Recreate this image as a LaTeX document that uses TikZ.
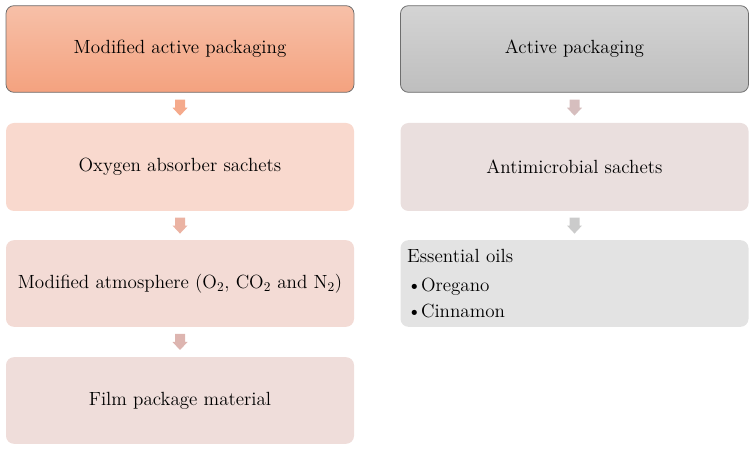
\documentclass[tikz,border=0pt]{standalone}
\usetikzlibrary{calc}
\definecolor{borderc}{HTML}{6E6E6E}
\definecolor{orTop}{HTML}{F7C0A8}
\definecolor{orBot}{HTML}{F4A27F}
\definecolor{grTop}{HTML}{D4D4D4}
\definecolor{grBot}{HTML}{BEBEBE}
\definecolor{lA}{HTML}{F9D9CE}
\definecolor{lB}{HTML}{F3DBD5}
\definecolor{lC}{HTML}{EFDDDA}
\definecolor{rA}{HTML}{EADFDE}
\definecolor{rB}{HTML}{E3E3E3}
\definecolor{arA}{HTML}{F5AA8C}
\definecolor{arB}{HTML}{EBB3A3}
\definecolor{arC}{HTML}{DDB5B0}
\definecolor{arD}{HTML}{D6BEBE}
\definecolor{arE}{HTML}{CBCBCB}
\tikzset{
  x=0.75pt, y=-0.75pt,
  box/.style={rounded corners=6pt, minimum width=261pt, minimum height=65pt,
    inner sep=0pt, align=center, font=\fontsize{14.3}{17}\selectfont},
  topbox/.style={box, draw=borderc, line width=0.6pt},
}
\newcommand{\blockarrow}[3]{%
  \path let \p1=($(#1.south)!0.5!(#2.north)$) in
    coordinate (c) at (\p1);
  \fill[#3] ($(c)+(-5,-8)$) -- ($(c)+(5,-8)$) -- ($(c)+(5,0)$) -- ($(c)+(7.5,0)$)
    -- ($(c)+(0,8)$) -- ($(c)+(-7.5,0)$) -- ($(c)+(-5,0)$) -- cycle;
}
\begin{document}
\begin{tikzpicture}
\useasboundingbox (0,0) rectangle (754,452);
\node[topbox, top color=orTop, bottom color=orBot] (l1) at (180,49) {Modified active packaging};
\node[box, fill=lA, minimum height=66pt] (l2) at (180,167) {Oxygen absorber sachets};
\node[box, fill=lB] (l3) at (180,283.5) {Modified atmosphere (O\textsubscript{2}, CO\textsubscript{2} and N\textsubscript{2})};
\node[box, fill=lC] (l4) at (180,400.5) {Film package material};
\node[topbox, top color=grTop, bottom color=grBot] (r1) at (574.5,49) {Active packaging};
\node[box, fill=rA, minimum height=66pt] (r2) at (574.5,167) {Antimicrobial sachets};
\node[box, fill=rB, align=left, text width=251pt, inner xsep=5pt] (r3) at (574.5,283.5)
  {Essential oils\\[5pt]\textbullet\kern-0.5pt Oregano\\[2.5pt]\textbullet\kern-0.5pt Cinnamon};
\blockarrow{l1}{l2}{arA}
\blockarrow{l2}{l3}{arB}
\blockarrow{l3}{l4}{arC}
\blockarrow{r1}{r2}{arD}
\blockarrow{r2}{r3}{arE}
\end{tikzpicture}
\end{document}
